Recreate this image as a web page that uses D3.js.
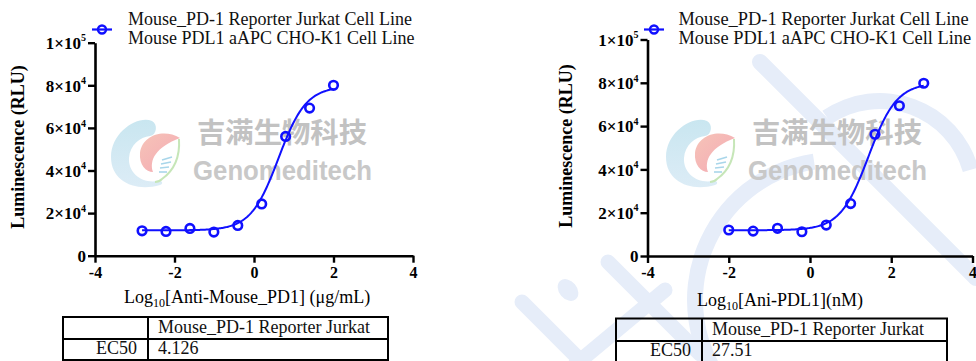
<!DOCTYPE html>
<html>
<head>
<meta charset="utf-8">
<script src="https://cdn.jsdelivr.net/npm/d3@7"></script>
<style>
  html, body { margin: 0; padding: 0; background: #fff; }
  svg { display: block; }
</style>
</head>
<body>
<svg id="chart" width="976" height="361"></svg>
<script>
// ---- data ----
const xTicks = [-4, -2, 0, 2, 4];
const yTicks = [0, 20000, 40000, 60000, 80000, 100000];
const yTickMantissa = ["0", "2", "4", "6", "8", "1"];
const yTickExponent = ["", "4", "4", "4", "4", "5"];

const seriesName = ["Mouse_PD-1 Reporter Jurkat Cell Line", "Mouse PDL1 aAPC CHO-K1 Cell Line"];
const tableHeader = "Mouse_PD-1 Reporter Jurkat";
const tableRowLabel = "EC50";

// anti-mouse PD1 (log10 µg/mL)
const antibodyLogConc = [-2.816, -2.214, -1.612, -1.010, -0.408, 0.194, 0.796, 1.398, 2.0];
const antibodyRLU = [11700, 11400, 12800, 11100, 14200, 24300, 56000, 69300, 80000];
const antibodyEC50 = 4.126;
const antibodyFit = [11900, 79500, 1.25]; // bottom, top, hill slope

// anti-PDL1 (log10 nM)
const pdl1LogConc = [-2.0, -1.4, -0.8, -0.2, 0.4, 1.0, 1.6, 2.2, 2.8];
const pdl1RLU = [12000, 11500, 12800, 11200, 14300, 24200, 56200, 69400, 79800];
const pdl1EC50 = 27.51;
const pdl1Fit = [11900, 80000, 1.25];

// ---- drawing ----
const svg = d3.select("#chart");
const SERIF = "'Liberation Serif', 'Times New Roman', serif";
const BLUE = "#1010ff";

function watermark(ox) {
  const g = svg.append("g").attr("transform", `translate(${ox},105)`);
  const defs = svg.append("defs");
  const gid = "pinkGrad" + ox;
  const grad = defs.append("linearGradient").attr("id", gid)
    .attr("x1", "0").attr("y1", "0").attr("x2", "1").attr("y2", "1");
  grad.append("stop").attr("offset", "0").attr("stop-color", "#f6c4b8");
  grad.append("stop").attr("offset", "1").attr("stop-color", "#f4a9b4");
  const bid = "blueGrad" + ox;
  const bg = defs.append("linearGradient").attr("id", bid)
    .attr("x1", "0").attr("y1", "0").attr("x2", "0").attr("y2", "1");
  bg.append("stop").attr("offset", "0").attr("stop-color", "#c9e6f0");
  bg.append("stop").attr("offset", "1").attr("stop-color", "#dcecf6");
  // blue crescent
  g.append("path")
    .attr("d", "M52,16 C38,10 11,27 11,52 C11,77 36,87 60,80 C64,79 62,75 58,76 C42,79 28,68 29,53 C30,40 40,32 50,31 C57,30 58,19 52,16 Z")
    .attr("fill", `url(#${bid})`);
  // pink swirl
  g.append("path")
    .attr("d", "M80,33 C64,23 42,30 40,48 C39,60 46,67 53,67 C49,55 56,42 80,33 Z")
    .attr("fill", `url(#${gid})`);
  // green stroke
  g.append("path")
    .attr("d", "M79,34 C80,50 76,64 62,74 C60,76 57,77 55,77")
    .attr("fill", "none").attr("stroke", "#c6e6b8").attr("stroke-width", 2);
  // helix rungs
  [[62,55,72,52],[61,59,71,57],[60,63,69,62],[59,67,67,67]].forEach(r => {
    g.append("line").attr("x1", r[0]).attr("y1", r[1]).attr("x2", r[2]).attr("y2", r[3])
      .attr("stroke", "#a9d6ea").attr("stroke-width", 1.6);
  });
  svg.append("text").attr("x", ox + 97).attr("y", 143)
    .attr("font-family", "'Noto Sans CJK SC', sans-serif").attr("font-weight", 700)
    .attr("font-size", 28).attr("fill", "#c2c2c2")
    .attr("textLength", 170).attr("lengthAdjust", "spacingAndGlyphs")
    .text("吉满生物科技");
  svg.append("text").attr("x", ox + 93).attr("y", 180)
    .attr("font-family", "'Liberation Sans', Arial, sans-serif").attr("font-weight", 700)
    .attr("font-size", 27).attr("fill", "#c8c8c8")
    .attr("textLength", 179).attr("lengthAdjust", "spacingAndGlyphs")
    .text("Genomeditech");
}

// faint background strokes on the right
function backgroundStrokes() {
  const g = svg.append("g").attr("fill", "none").attr("stroke", "#e6edf9")
    .attr("stroke-linecap", "round");
  g.append("line").attr("x1", 760).attr("y1", 62).attr("x2", 976).attr("y2", 278).attr("stroke-width", 16);
  g.append("line").attr("x1", 522).attr("y1", 302).attr("x2", 585).attr("y2", 365).attr("stroke-width", 15);
  g.append("ellipse").attr("cx", 568).attr("cy", 290).attr("rx", 9).attr("ry", 12)
    .attr("transform", "rotate(-40 568 290)").attr("fill", "#e6edf9").attr("stroke", "none");
  g.append("line").attr("x1", 608).attr("y1", 262).attr("x2", 700).attr("y2", 354).attr("stroke-width", 15);
  g.append("line").attr("x1", 575).attr("y1", 365).attr("x2", 665).attr("y2", 290).attr("stroke-width", 15);
  const arc1 = d3.arc()({innerRadius: 132, outerRadius: 148, startAngle: -2.25, endAngle: -0.15});
  g.append("path").attr("d", arc1).attr("transform", "translate(835,300)")
    .attr("fill", "#e6edf9").attr("stroke", "none");
  const arc2 = d3.arc()({innerRadius: 86, outerRadius: 102, startAngle: -0.6, endAngle: 1.3});
  g.append("path").attr("d", arc2).attr("transform", "translate(880,195)")
    .attr("fill", "#e6edf9").attr("stroke", "none");
}

function panel(cfg) {
  const x = d3.scaleLinear().domain([-4, 4]).range([cfg.x0, cfg.x1]);
  const y = d3.scaleLinear().domain([0, 100000]).range([cfg.y0, cfg.y1]);
  const g = svg.append("g");

  // y axis
  const ya = g.append("g").attr("transform", `translate(${cfg.x0},0)`)
    .call(d3.axisLeft(y).tickValues(yTicks).tickSize(7).tickSizeOuter(0).tickPadding(2));
  ya.select(".domain").attr("stroke-width", 2.6);
  ya.selectAll(".tick line").attr("stroke-width", 2.4);
  ya.selectAll(".tick text").each(function (d, i) {
    const t = d3.select(this);
    t.text(null).attr("font-family", SERIF).attr("font-weight", 700).attr("font-size", 17)
      .attr("fill", "#000").attr("dy", "0.34em");
    if (yTickExponent[i] === "") {
      t.append("tspan").text(yTickMantissa[i]);
    } else {
      t.append("tspan").text(yTickMantissa[i] + "×10");
      t.append("tspan").attr("font-size", 10).attr("dy", "-0.75em").text(yTickExponent[i]);
    }
  });

  // x axis
  const xa = g.append("g").attr("transform", `translate(0,${cfg.y0})`)
    .call(d3.axisBottom(x).tickValues(xTicks).tickSize(7).tickSizeOuter(0).tickPadding(4)
      .tickFormat(d3.format("d")));
  xa.select(".domain").attr("stroke-width", 2.6);
  xa.selectAll(".tick line").attr("stroke-width", 2.4);
  xa.selectAll(".tick text").attr("font-family", SERIF).attr("font-weight", 700)
    .attr("font-size", 16).attr("fill", "#000").text(d => d < 0 ? "-" + Math.abs(d) : d);

  // y title
  g.append("text")
    .attr("transform", `translate(${cfg.ytx},${cfg.yty}) rotate(-90)`)
    .attr("text-anchor", "middle")
    .attr("font-family", SERIF).attr("font-weight", 700).attr("font-size", 18)
    .text("Luminescence (RLU)");

  // x title
  const xt = g.append("text").attr("x", cfg.xtx).attr("y", cfg.xty)
    .attr("font-family", SERIF).attr("font-size", 18);
  xt.append("tspan").text("Log");
  xt.append("tspan").attr("font-size", 12).attr("dy", 4).text("10");
  xt.append("tspan").attr("dy", -4).text(cfg.xTitle);

  // fitted curve
  const [bottom, top, hill] = cfg.fit;
  const logEC = Math.log10(cfg.ec50);
  const xs = cfg.xData;
  const lo = d3.min(xs), hi = d3.max(xs);
  const curvePts = d3.range(0, 201).map(k => {
    const lx = lo + (hi - lo) * k / 200;
    return [lx, bottom + (top - bottom) / (1 + Math.pow(10, (logEC - lx) * hill))];
  });
  g.append("path").datum(curvePts)
    .attr("d", d3.line().x(d => x(d[0])).y(d => y(d[1])).curve(d3.curveLinear))
    .attr("fill", "none").attr("stroke", BLUE).attr("stroke-width", 2);

  // data points
  g.selectAll("circle.pt").data(xs.map((v, i) => [v, cfg.yData[i]])).enter()
    .append("circle").attr("class", "pt")
    .attr("cx", d => x(d[0])).attr("cy", d => y(d[1])).attr("r", 4.3)
    .attr("fill", "none").attr("stroke", BLUE).attr("stroke-width", 2.6);

  // legend
  g.append("line").attr("x1", cfg.lgx - 10).attr("x2", cfg.lgx + 10)
    .attr("y1", 29.5).attr("y2", 29.5).attr("stroke", BLUE).attr("stroke-width", 2.2);
  g.append("circle").attr("cx", cfg.lgx).attr("cy", 29.5).attr("r", 4)
    .attr("fill", "none").attr("stroke", BLUE).attr("stroke-width", 2.4);
  seriesName.forEach((s, i) => {
    g.append("text").attr("x", cfg.ltx).attr("y", 25 + i * 19.3)
      .attr("font-family", SERIF).attr("font-size", cfg.lfs).attr("fill", "#111").text(s);
  });

  // EC50 table
  const t = cfg.table;
  const tg = g.append("g").attr("stroke", "#000").attr("stroke-width", 2).attr("fill", "none");
  tg.append("rect").attr("x", t.x0).attr("y", t.y0).attr("width", t.x1 - t.x0).attr("height", t.y2 - t.y0);
  tg.append("line").attr("x1", t.xm).attr("x2", t.xm).attr("y1", t.y0).attr("y2", t.y2);
  tg.append("line").attr("x1", t.x0).attr("x2", t.x1).attr("y1", t.y1).attr("y2", t.y1);
  g.append("text").attr("x", t.xm + 10).attr("y", t.y1 - 6.5)
    .attr("font-family", SERIF).attr("font-size", 18).attr("fill", "#111").text(tableHeader);
  g.append("text").attr("x", t.xm - 11).attr("y", t.y1 + 15).attr("text-anchor", "end")
    .attr("font-family", SERIF).attr("font-size", 18).attr("fill", "#111").text(tableRowLabel);
  g.append("text").attr("x", t.xm + 10).attr("y", t.y1 + 15)
    .attr("font-family", SERIF).attr("font-size", 18).attr("fill", "#111").text(String(cfg.ec50));
}

backgroundStrokes();
watermark(100);
watermark(655);

panel({
  x0: 95, x1: 413, y0: 255.7, y1: 42.7,
  xData: antibodyLogConc, yData: antibodyRLU, fit: antibodyFit, ec50: antibodyEC50,
  xTitle: "[Anti-Mouse_PD1] (μg/mL)", xtx: 124, xty: 303,
  ytx: 24, yty: 147,
  lgx: 102, ltx: 128, lfs: 18,
  table: {x0: 63, x1: 388, xm: 148, y0: 317, y1: 339, y2: 360}
});

panel({
  x0: 647.5, x1: 972.5, y0: 256, y1: 39.5,
  xData: pdl1LogConc, yData: pdl1RLU, fit: pdl1Fit, ec50: pdl1EC50,
  xTitle: "[Ani-PDL1](nM)", xtx: 697, xty: 306,
  ytx: 572, yty: 146,
  lgx: 654, ltx: 678.5, lfs: 18.4,
  table: {x0: 616, x1: 947, xm: 702, y0: 318.5, y1: 341, y2: 364}
});
</script>
</body>
</html>
